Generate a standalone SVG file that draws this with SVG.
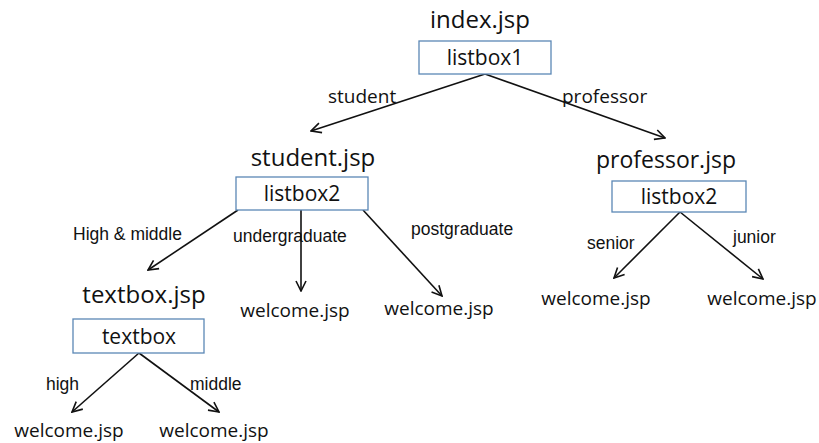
<svg xmlns="http://www.w3.org/2000/svg" width="819" height="443" viewBox="0 0 819 443">
<style>
.t{font-family:"Open Sans","Liberation Sans",sans-serif;fill:#111;text-anchor:middle}
.title{font-size:24px}
.box{font-size:21px}
.w{font-size:19px}
.lbl{font-family:"Liberation Sans",Arial,sans-serif;font-size:17.5px;fill:#111}
.lblo{font-family:"Open Sans",sans-serif;font-size:19px;fill:#111}
rect{fill:#fff;stroke:#5b87b5;stroke-width:1.3}
.c line{stroke:#111;stroke-width:1.6;marker-end:url(#a)}
</style>
<defs>
<marker id="a" viewBox="0 0 12 12" refX="11" refY="6" markerWidth="12" markerHeight="12" markerUnits="userSpaceOnUse" orient="auto">
<path d="M1,1 L11,6 L1,11" fill="none" stroke="#111" stroke-width="1.6"/>
</marker>
</defs>
<rect width="819" height="443" style="fill:#fff;stroke:none"/>
<g class="c">
<line x1="485" y1="74" x2="311" y2="131"/>
<line x1="485" y1="74" x2="665" y2="138"/>
<line x1="238" y1="210" x2="148" y2="270"/>
<line x1="301" y1="210" x2="301" y2="291"/>
<line x1="363" y1="210" x2="442" y2="296"/>
<line x1="139" y1="353" x2="72" y2="412"/>
<line x1="139" y1="353" x2="219" y2="412"/>
<line x1="680" y1="212" x2="614" y2="278"/>
<line x1="680" y1="212" x2="763" y2="279"/>
</g>
<g id="index">
<text class="t title" x="480" y="28">index.jsp</text>
<rect x="419" y="41" width="132" height="33"/>
<text class="t box" x="485" y="65">listbox1</text>
</g>
<g id="student">
<text class="t title" x="313" y="166">student.jsp</text>
<rect x="236" y="177" width="132" height="33"/>
<text class="t box" x="302" y="201">listbox2</text>
</g>
<g id="professor">
<text class="t title" x="666" y="168" style="font-size:23px">professor.jsp</text>
<rect x="612" y="181" width="134" height="31"/>
<text class="t box" x="679" y="204">listbox2</text>
</g>
<g id="textbox">
<text class="t title" x="144" y="303">textbox.jsp</text>
<rect x="73" y="319" width="131" height="34"/>
<text class="t box" x="139" y="344">textbox</text>
</g>
<g id="w1"><text class="t w" x="295" y="317">welcome.jsp</text></g>
<g id="w2"><text class="t w" x="439" y="315">welcome.jsp</text></g>
<g id="w3"><text class="t w" x="69" y="437">welcome.jsp</text></g>
<g id="w4"><text class="t w" x="214" y="437">welcome.jsp</text></g>
<g id="w5"><text class="t w" x="596" y="305">welcome.jsp</text></g>
<g id="w6"><text class="t w" x="762" y="305">welcome.jsp</text></g>
<g id="labels">
<text class="lblo" x="328" y="103">student</text>
<text class="lblo" x="562" y="103">professor</text>
<text class="lbl" x="73" y="240">High &amp; middle</text>
<text class="lbl" x="233" y="242">undergraduate</text>
<text class="lbl" x="411" y="235">postgraduate</text>
<text class="lbl" x="587" y="249">senior</text>
<text class="lbl" x="733" y="243">junior</text>
<text class="lbl" x="46" y="390">high</text>
<text class="lbl" x="190" y="390">middle</text>
</g>
</svg>
